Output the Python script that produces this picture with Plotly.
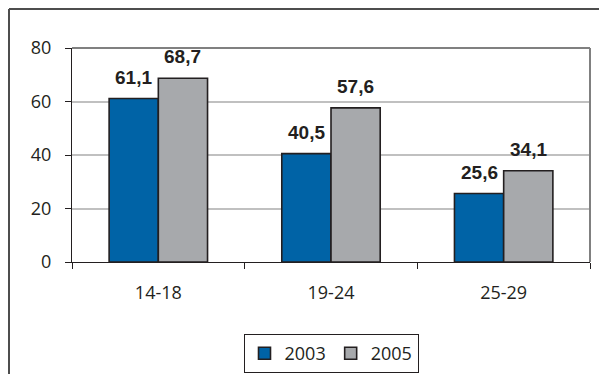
import plotly.graph_objects as go

categories = ["14-18", "19-24", "25-29"]
years = ["2003", "2005"]
values_2003 = [61.1, 40.5, 25.6]
values_2005 = [68.7, 57.6, 34.1]
colors = ["#0063a6", "#a7a9ac"]
y_ticks = [0, 20, 40, 60, 80]

ink = "#231f20"

# the page body has an 8px margin, so the figure is 8px smaller and everything shifted
W, H = 599, 366
L, R, T, B = 64, 17, 40, 112
pw, ph = W - L - R, H - T - B
bargap = 0.43
bar_px = pw / len(categories) * (1 - bargap) / 2

def px(x):
    return (x - L) / pw

def py(y):
    return (H - B - y) / ph

fig = go.Figure()
annotations = []
for k, (name, vals, col) in enumerate(zip(years, [values_2003, values_2005], colors)):
    fig.add_trace(go.Bar(
        x=categories, y=vals, name=name,
        marker=dict(color=col, line=dict(color=ink, width=1.6)),
    ))
    for cat, v in zip(categories, vals):
        annotations.append(dict(
            x=cat, y=v, xref="x", yref="y",
            text=f"{v:.1f}".replace(".", ","), showarrow=False,
            xshift=(k - 0.5) * bar_px, yshift=9, yanchor="bottom",
            font=dict(family="Liberation Sans, Arial", size=19, color=ink, weight="bold"),
        ))

fig.update_layout(
    width=W, height=H,
    margin=dict(l=L, r=R, t=T, b=B, autoexpand=False),
    paper_bgcolor="white", plot_bgcolor="white",
    separators=", ",
    barmode="group", bargap=bargap, bargroupgap=0,
    showlegend=True,
    legend=dict(
        orientation="h", x=0.5, xanchor="center",
        yref="container", y=1 - 326 / H, yanchor="top",
        bordercolor=ink, borderwidth=1,
        font=dict(family="Open Sans", size=18, color=ink),
        itemwidth=30, tracegroupgap=0,
    ),
    font=dict(family="Open Sans", size=18, color=ink),
    xaxis=dict(
        showline=True, linecolor=ink, linewidth=1, automargin=False,
        ticks="outside", tickson="boundaries", ticklen=6, tickcolor=ink,
        ticklabelstandoff=14,
    ),
    yaxis=dict(
        range=[0, 80], tickvals=y_ticks, automargin=False,
        showline=True, linecolor=ink, linewidth=1,
        ticks="outside", ticklen=6, tickcolor=ink,
        ticklabelstandoff=10,
        showgrid=True, gridcolor="#c0c0c0", gridwidth=1.5,
        zeroline=False,
    ),
    annotations=annotations,
    shapes=[
        # plot area border top/right (gray)
        dict(type="line", xref="paper", yref="paper", x0=0, x1=1, y0=1, y1=1,
             line=dict(color="#808080", width=2)),
        dict(type="line", xref="paper", yref="paper", x0=1, x1=1, y0=0, y1=1,
             line=dict(color="#808080", width=2)),
        # outer chart frame
        dict(type="line", xref="paper", yref="paper", x0=px(1), x1=px(W + 5), y0=py(1), y1=py(1),
             line=dict(color="#4d4d4d", width=2)),
        dict(type="line", xref="paper", yref="paper", x0=px(1), x1=px(1), y0=py(1), y1=py(H + 5),
             line=dict(color="#4d4d4d", width=2)),
    ],
)

fig.write_html("out.html")
